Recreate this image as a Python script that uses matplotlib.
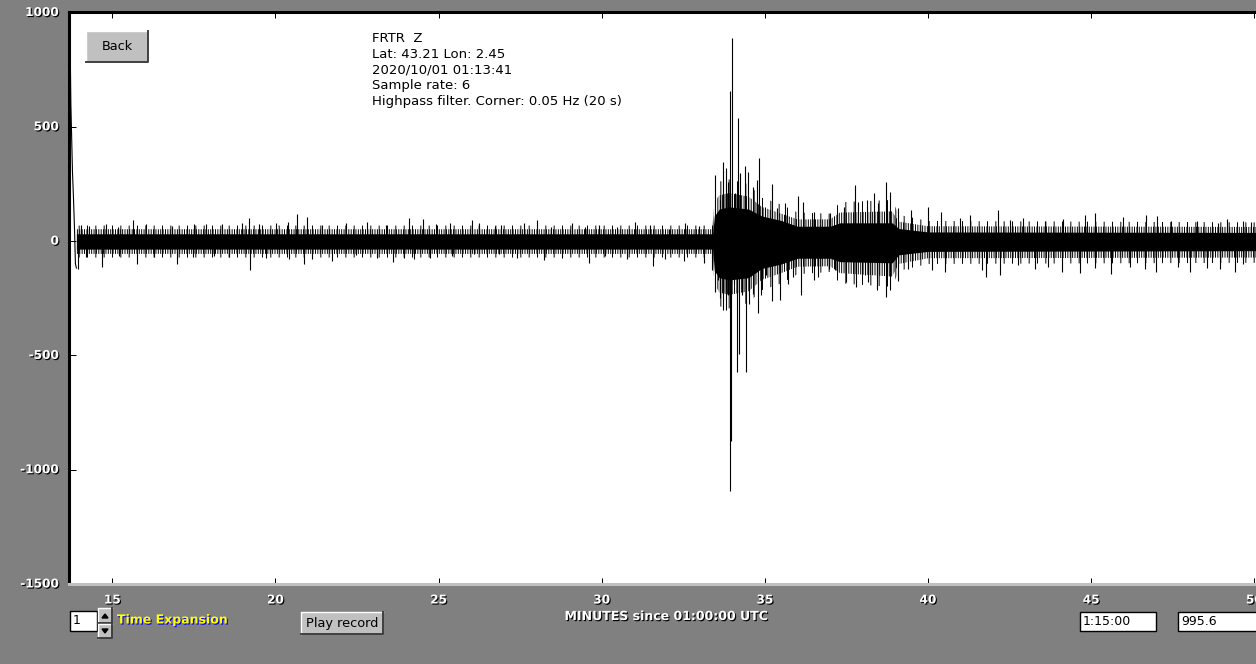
import matplotlib
matplotlib.use("Agg")
import matplotlib.pyplot as plt
import matplotlib.patheffects as pe
from matplotlib.patches import Rectangle, Polygon
from matplotlib.lines import Line2D

W, H = 1256, 664
GREY = '#808080'
FACE = '#c0c0c0'
plt.rcParams['hatch.linewidth'] = 0.7

# station header text
header = ["FRTR  Z", "Lat: 43.21 Lon: 2.45", "2020/10/01 01:13:41",
          "Sample rate: 6", "Highpass filter. Corner: 0.05 Hz (20 s)"]

x_ticks = [15, 20, 25, 30, 35, 40, 45, 50]
y_ticks = [1000, 500, 0, -500, -1000, -1500]

# filter transient at the start of the record
trans_t = [13.715, 13.73, 13.75, 13.78, 13.81, 13.84, 13.87, 13.90]
trans_v = [780, 600, 480, 300, 190, 60, -100, -118]

# solid core of the trace (envelope of the dense noise), counts
env_t = [13.90, 33.40, 33.45, 33.60, 33.90, 34.50, 34.90, 35.50, 36.00,
         37.00, 37.30, 38.90, 39.10, 40.00, 50.06]
env_hi = [32, 32, 110, 140, 150, 140, 110, 90, 65, 65, 80, 80, 55, 40, 38]
env_lo = [-35, -35, -130, -160, -170, -160, -120, -100, -75, -75, -90, -95,
          -60, -45, -42]
# band reached by most swings, and the wider band reached by many of them
mid_hi = [52, 52, 170, 200, 210, 195, 150, 120, 95, 95, 125, 130, 85, 65, 62]
mid_lo = [-56, -56, -185, -225, -235, -220, -170, -140, -112, -110, -140, -155,
          -100, -75, -72]
out_hi = [68, 68, 220, 260, 270, 250, 190, 160, 125, 120, 170, 180, 115, 88, 82]
out_lo = [-72, -72, -240, -285, -295, -270, -215, -185, -145, -135, -185, -200,
          -130, -100, -95]

# single peaks standing out of the core (minutes, counts)
peak_t = [14.04, 14.30, 14.81, 15.18, 15.64, 16.03, 16.84, 17.51, 17.87, 18.36,
          18.97, 19.19, 19.50, 20.01, 20.37, 20.67, 20.98, 21.44, 22.17, 22.80,
          23.40, 24.09, 24.52, 24.92, 25.34, 26.01, 26.23, 26.74, 26.90, 27.61,
          28.02, 28.43, 29.09, 29.50, 29.91, 30.46, 31.03, 31.49, 32.05, 32.56,
          32.97,
          13.94, 14.19, 14.68, 15.21, 15.77, 16.28, 16.97, 17.46, 18.12, 18.58,
          19.21, 19.70, 20.42, 20.88, 21.13, 21.72, 22.46, 23.10, 23.60, 23.94,
          24.24, 24.75, 25.42, 26.08, 26.84, 27.40, 28.22, 28.78, 29.60, 30.11,
          30.77, 31.56, 31.95, 32.51, 33.12, 33.37,
          # earthquake
          33.46, 33.63, 33.73, 33.81, 33.88, 33.94, 33.98, 34.09, 34.17, 34.24,
          34.40, 34.48, 34.65, 34.75, 34.81, 35.01, 35.21, 35.36, 35.62, 36.01,
          36.18, 36.49, 37.00, 37.41, 37.76, 37.86, 38.12, 38.35, 38.48, 38.71,
          38.83, 39.09, 39.48, 40.01, 40.40, 40.98, 41.30, 42.15, 42.51, 42.91,
          43.58, 44.14, 44.80, 45.11, 45.97, 46.69, 47.02, 47.45, 48.25, 48.88,
          49.17, 49.65, 49.90,
          33.46, 33.56, 33.63, 33.71, 33.80, 33.88, 33.92, 33.96, 34.04, 34.14,
          34.20, 34.29, 34.42, 34.50, 34.62, 34.80, 34.88, 35.03, 35.21, 35.47,
          35.72, 35.87, 36.10, 36.49, 36.64, 36.95, 37.15, 37.50, 37.79, 38.07,
          38.17, 38.42, 38.71, 38.83, 39.09, 39.40, 40.13, 40.52, 41.64, 41.79,
          42.20, 42.76, 43.27, 43.68, 44.09, 44.67, 45.11, 45.60, 46.18, 46.64,
          46.99, 47.66, 48.02, 48.56, 48.94, 49.40, 49.65]
peak_v = [70, 65, 75, 62, 92, 75, 65, 75, 75, 75,
          80, 100, 75, 80, 85, 118, 107, 70, 80, 85,
          70, 100, 97, 75, 80, 92, 80, 65, 70, 80,
          92, 62, 80, 62, 70, 62, 82, 70, 55, 80,
          65,
          -120, -70, -112, -65, -98, -70, -101, -70, -65, -70,
          -127, -75, -80, -101, -80, -88, -60, -75, -90, -73,
          -80, -73, -66, -58, -58, -73, -83, -73, -95, -66,
          -80, -110, -80, -88, -95, -127,
          289, 180, 348, 319, 260, 655, 889, 209, 538, 297,
          330, 304, 238, 268, 363, 150, 250, 143, 168, 197,
          172, 129, 125, 150, 246, 172, 180, 209, 165, 257,
          216, 143, 136, 150, 128, 100, 114, 136, 93, 100,
          90, 97, 112, 124, 107, 112, 109, 87, 87, 80,
          97, 87, 82,
          -222, -171, -251, -303, -303, -237, -1092, -873, -186, -573,
          -493, -237, -573, -273, -230, -314, -237, -150, -262, -259,
          -186, -157, -237, -171, -157, -120, -127, -178, -200, -150,
          -178, -215, -244, -215, -174, -120, -127, -134, -127, -159,
          -149, -105, -124, -112, -134, -139, -117, -142, -112, -124,
          -134, -112, -134, -117, -124, -134, -100]

fig = plt.figure(figsize=(W / 100, H / 100), dpi=100, facecolor=GREY)
ax = fig.add_axes([69 / W, 1 - 584 / H, 1 - 69 / W, (584 - 12.5) / H])
ax.set_facecolor('white')
ax.set_xlim(13.673, 50.05)
ax.set_ylim(-1500, 1000)

# trace: sparse outer swings, dense swings, solid core, then single peaks
ax.fill_between(env_t, out_lo, out_hi, facecolor='none', edgecolor='black',
                hatch='||', lw=0)
ax.fill_between(env_t, mid_lo, mid_hi, facecolor='none', edgecolor='black',
                hatch='|||||||', lw=0)
ax.fill_between(env_t, env_lo, env_hi, color='black', lw=0)
ax.vlines(peak_t, 0, peak_v, color='black', lw=0.8)
ax.plot(trans_t, trans_v, color='black', lw=0.8)

for s in ['left', 'top']:
    ax.spines[s].set_linewidth(2.2)
    ax.spines[s].set_color('black')
ax.spines['bottom'].set_linewidth(2.2)
ax.spines['bottom'].set_color(FACE)
ax.spines['right'].set_visible(False)

ax.set_xticks(x_ticks)
ax.set_yticks(y_ticks)
ax.tick_params(axis='x', direction='in', top=True, bottom=True, length=4.3,
               width=0.72, color='black', labelbottom=False)
ax.tick_params(axis='y', direction='in', left=True, length=5, width=0.72,
               color='black', labelleft=False)

shadow = [pe.withSimplePatchShadow(offset=(0.8, -0.8), shadow_rgbFace='black', alpha=1)]
for v in y_ticks:
    ax.annotate(str(v), xy=(0, v), xycoords=('axes fraction', 'data'),
                xytext=(-10, 0), textcoords='offset pixels', ha='right', va='center',
                color='white', fontsize=8.7, fontweight='bold', path_effects=shadow,
                annotation_clip=False)
for v in x_ticks:
    ax.annotate(str(v), xy=(v, 0), xycoords=('data', 'axes fraction'),
                xytext=(0, -16), textcoords='offset pixels', ha='center', va='center',
                color='white', fontsize=8.7, fontweight='bold', path_effects=shadow,
                annotation_clip=False)

fig.text(666 / W, 1 - 616.5 / H, "MINUTES since 01:00:00 UTC", ha='center', va='center',
         color='white', fontsize=9, fontweight='bold', path_effects=shadow)

for i, line in enumerate(header):
    fig.text(372 / W, 1 - (38 + 16 * i) / H, line, ha='left', va='center',
             fontsize=9.5, color='black')


def px_rect(x0, y0, x1, y1, **kw):
    fig.patches.append(Rectangle((x0 / W, 1 - y1 / H), (x1 - x0) / W, (y1 - y0) / H,
                                 transform=fig.transFigure, **kw))


def px_line(xs, ys, **kw):
    fig.lines.append(Line2D([x / W for x in xs], [1 - y / H for y in ys],
                            transform=fig.transFigure, **kw))


def button(x0, y0, x1, y1, label=None):
    px_rect(x0, y0, x1, y1, facecolor=FACE, edgecolor='none')
    px_line([x0, x0, x1], [y1, y0, y0], color='white', lw=1)
    px_line([x0, x1, x1], [y1, y1, y0], color='#404040', lw=1.4)
    if label:
        fig.text((x0 + x1) / 2 / W, 1 - (y0 + y1) / 2 / H, label, ha='center',
                 va='center', fontsize=9.3, color='black')


def textbox(x0, y0, x1, y1, label):
    px_rect(x0, y0, x1, y1, facecolor='white', edgecolor='black', lw=1)
    fig.text((x0 + 3) / W, 1 - (y0 + y1) / 2 / H, label, ha='left', va='center',
             fontsize=9, color='black')


button(86, 31, 148, 62, "Back")
button(301, 612, 383, 634, "Play record")
textbox(70, 611, 97, 631, "1")
button(98, 608, 112, 623)
button(98, 624, 112, 638)
fig.patches.append(Polygon([(102 / W, 1 - 618 / H), (108 / W, 1 - 618 / H), (105 / W, 1 - 614 / H)],
                           closed=True, transform=fig.transFigure, color='black'))
fig.patches.append(Polygon([(102 / W, 1 - 629 / H), (108 / W, 1 - 629 / H), (105 / W, 1 - 633 / H)],
                           closed=True, transform=fig.transFigure, color='black'))
fig.text(117 / W, 1 - 620 / H, "Time Expansion", ha='left', va='center', color='#ffff00',
         fontsize=9, fontweight='bold',
         path_effects=[pe.withSimplePatchShadow(offset=(0.8, -0.8), shadow_rgbFace='#0000ff', alpha=1)])
textbox(1080, 612, 1156, 631, "1:15:00")
textbox(1178, 612, 1262, 631, "995.6")

fig.savefig('out.png', dpi=100, facecolor=GREY)
